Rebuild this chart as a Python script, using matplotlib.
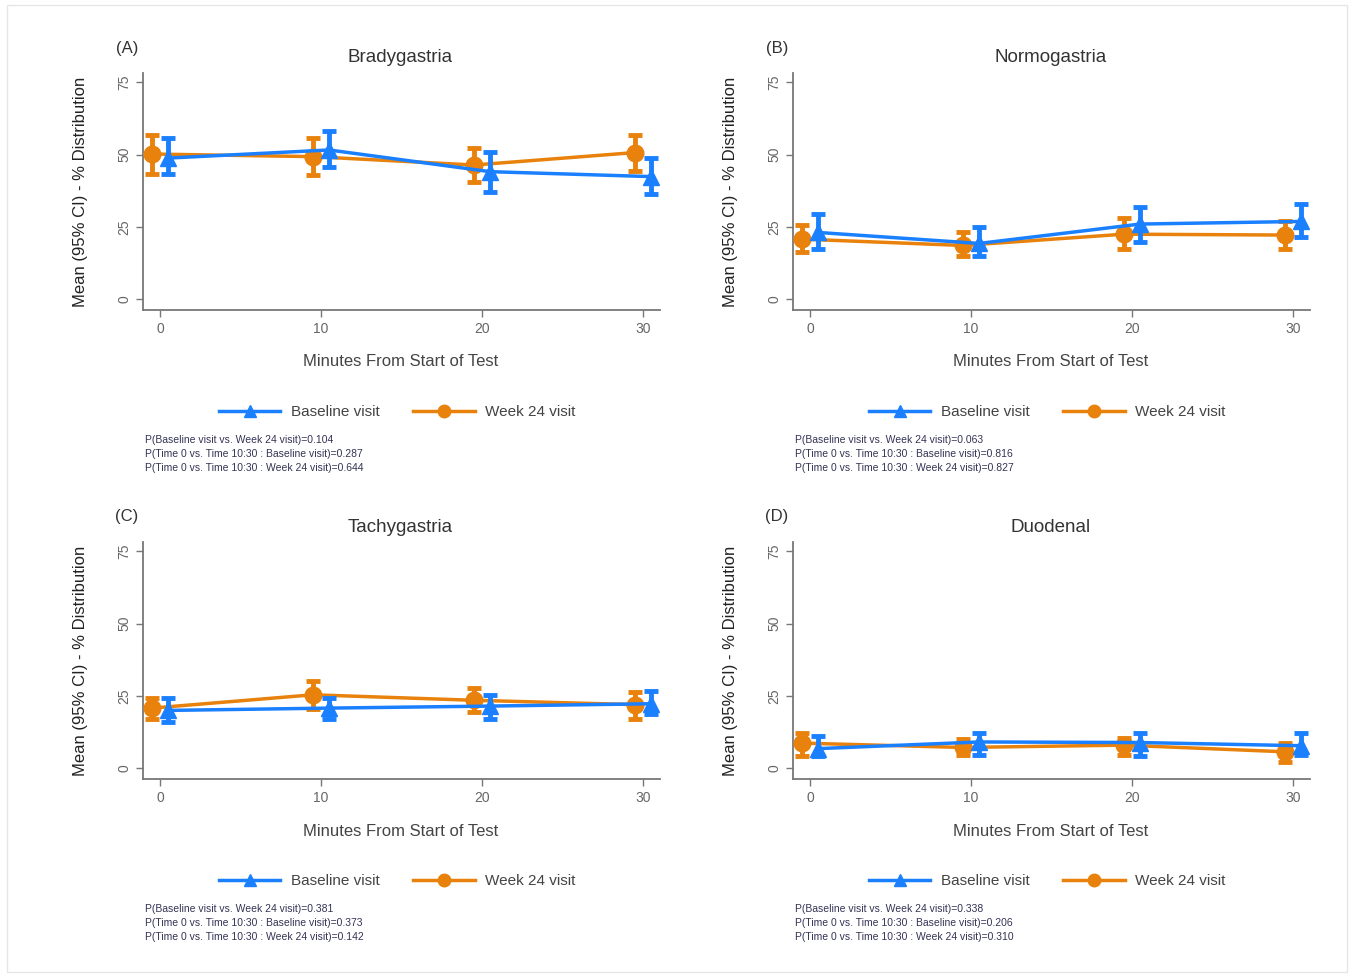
import numpy as np
import matplotlib.pyplot as plt
from matplotlib.lines import Line2D
from matplotlib.patches import Rectangle

plt.rcParams['font.family'] = ['Liberation Sans', 'DejaVu Sans']

# time points (minutes)
minutes = [0, 10, 20, 30]
panel_tags = ['(A)', '(B)', '(C)', '(D)']
panel_titles = ['Bradygastria', 'Normogastria', 'Tachygastria', 'Duodenal']

# means and 95% CI, per panel
base_mean = [[48.8, 51.6, 44.1, 42.4],
             [23.1, 19.3, 26.0, 26.9],
             [20.0, 20.8, 21.5, 22.3],
             [6.8, 9.1, 8.9, 7.8]]
base_lo = [[43.3, 45.6, 37.2, 36.4],
           [17.3, 15.0, 19.9, 21.4],
           [16.0, 17.2, 17.2, 18.9],
           [4.3, 4.6, 4.3, 4.6]]
base_hi = [[55.9, 58.2, 51.0, 48.8],
           [29.6, 24.9, 31.9, 33.0],
           [24.4, 24.4, 25.2, 26.7],
           [11.2, 12.3, 12.3, 12.1]]
wk24_mean = [[50.2, 49.3, 46.4, 50.7],
             [20.8, 18.6, 22.5, 22.2],
             [20.8, 25.4, 23.5, 22.0],
             [8.7, 7.2, 8.0, 5.7]]
wk24_lo = [[43.3, 43.0, 40.7, 44.5],
           [16.4, 15.0, 17.3, 17.5],
           [17.2, 20.6, 19.5, 17.2],
           [4.3, 4.6, 4.6, 2.1]]
wk24_hi = [[56.8, 55.7, 52.2, 56.8],
           [25.8, 23.1, 28.0, 26.9],
           [24.4, 30.1, 27.8, 26.3],
           [12.3, 10.0, 10.3, 8.7]]

p_visit = ['0.104', '0.063', '0.381', '0.338']
p_time_base = ['0.287', '0.816', '0.373', '0.206']
p_time_wk24 = ['0.644', '0.827', '0.142', '0.310']

yticks = [0, 25, 50, 75]

BLUE = '#1a80ff'
ORANGE = '#e8820c'
W, H = 1352, 977

fig = plt.figure(figsize=(W / 100, H / 100), dpi=100)
fig.patches.append(Rectangle((7 / W, 5 / H), 1340 / W, 967 / H, transform=fig.transFigure,
                             fill=False, edgecolor='#e6e6e6', linewidth=1))


def fx(px):
    return px / W


def fy(py):
    return 1 - py / H


lefts = [143, 793]
tops = [73, 542]
ax_w, ax_h = 517, 237

for i in range(4):
    col, row = i % 2, i // 2
    l, t = lefts[col], tops[row]
    ax = fig.add_axes([fx(l), fy(t + ax_h), ax_w / W, ax_h / H])
    x = np.array(minutes, dtype=float)

    bm, bl, bh = np.array(base_mean[i]), np.array(base_lo[i]), np.array(base_hi[i])
    wm, wl, wh = np.array(wk24_mean[i]), np.array(wk24_lo[i]), np.array(wk24_hi[i])

    ax.errorbar(x - 0.5, wm, yerr=[wm - wl, wh - wm], color=ORANGE, marker='o', ms=12,
                lw=2.5, elinewidth=3.5, capsize=5, capthick=3.5, zorder=3)
    ax.errorbar(x + 0.5, bm, yerr=[bm - bl, bh - bm], color=BLUE, marker='^', ms=12,
                lw=2.5, elinewidth=3.5, capsize=5, capthick=3.5, zorder=4)

    ax.set_xlim(-1.06, 31.06)
    ax.set_ylim(-3.7, 78.2)
    ax.set_xticks(minutes)
    ax.set_yticks(yticks)
    ax.set_yticklabels([str(v) for v in yticks], rotation=90, va='center')
    for s in ['top', 'right']:
        ax.spines[s].set_visible(False)
    for s in ['left', 'bottom']:
        ax.spines[s].set_color('#777777')
        ax.spines[s].set_linewidth(1.3)
    ax.tick_params(colors='#777777', labelcolor='#666666', labelsize=10, length=5, width=1)
    ax.set_facecolor('white')

    # panel tag, title, axis labels
    fig.text(fx(l - 16), fy(t - 25), panel_tags[i], fontsize=12, color='#333333', ha='center', va='center')
    fig.text(fx(l + ax_w / 2 - 1), fy(t - 15), panel_titles[i], fontsize=13.5, color='#333333',
             ha='center', va='center')
    fig.text(fx(l - 63), fy(t + ax_h / 2), 'Mean (95% CI) - % Distribution', fontsize=12,
             color='#222222', rotation=90, ha='center', va='center')
    fig.text(fx(l + ax_w / 2 - 1), fy(t + 289), 'Minutes From Start of Test', fontsize=12,
             color='#444444', ha='center', va='center')

    # legend below the panel
    leg_handles = [Line2D([], [], color=BLUE, marker='^', ms=9, lw=2.5),
                   Line2D([], [], color=ORANGE, marker='o', ms=9, lw=2.5)]
    fig.legend(leg_handles, ['Baseline visit', 'Week 24 visit'], loc='center',
               bbox_to_anchor=(fx(l + ax_w / 2 - 4), fy(t + 339)), ncol=2, frameon=False,
               fontsize=11, handlelength=4.0, columnspacing=2.2, handletextpad=0.7,
               labelcolor='#444444')

    notes = ['P(Baseline visit vs. Week 24 visit)=' + p_visit[i],
             'P(Time 0 vs. Time 10:30 : Baseline visit)=' + p_time_base[i],
             'P(Time 0 vs. Time 10:30 : Week 24 visit)=' + p_time_wk24[i]]
    for k, txt in enumerate(notes):
        fig.text(fx(l + 2), fy(t + 367 + 14 * k), txt, fontsize=7.5, color='#333355',
                 ha='left', va='center')

fig.savefig('out.png', dpi=100, facecolor='white')
